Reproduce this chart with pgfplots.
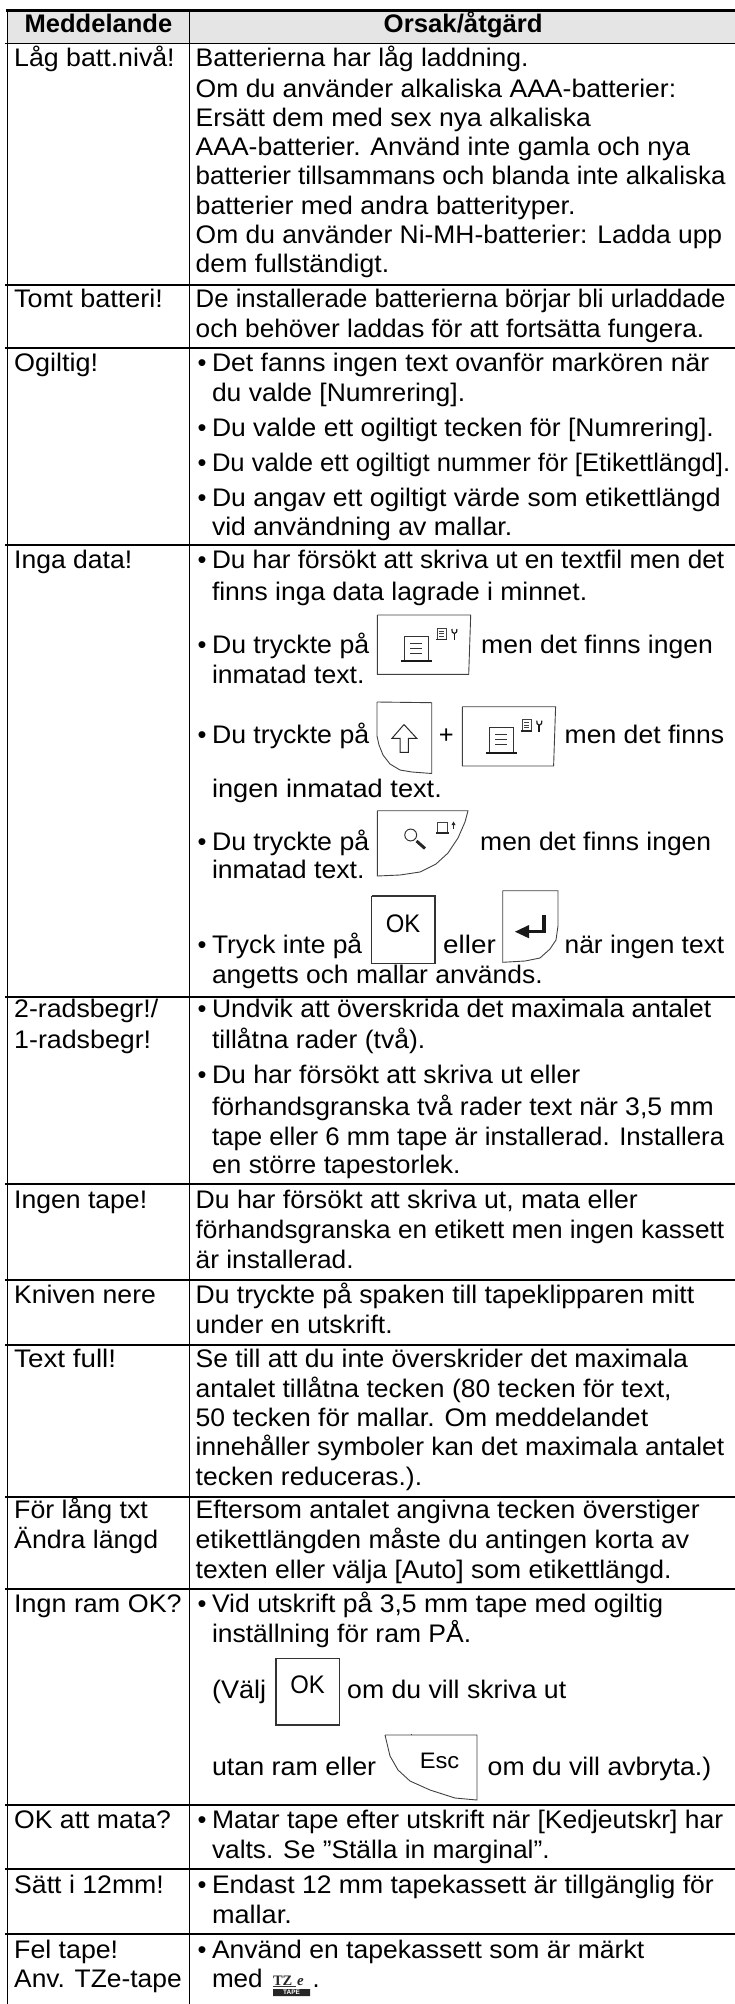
\documentclass[border=0pt]{standalone}
\usepackage{graphicx}
\usepackage{pgfplots}
\pgfplotsset{compat=1.18}
\usepackage{fontspec}
\setmainfont{Liberation Sans}
\newfontfamily\tzfont{Liberation Serif}
% \W{start}{right end}{text}: text set to the measured line width
\newcommand\W[3]{\resizebox{\dimexpr #2bp-#1bp+1bp\relax}{\height}{#3}}
\newcommand\T[4]{\node[anchor=base west,inner sep=0pt,text=black] at (axis cs:#1,#3) {\W{#1}{#2}{#4}};}
\newcommand\LC[3]{\T{14}{#1}{#2}{#3}}
\newcommand\RC[3]{\T{195.5}{#1}{#2}{#3}}
\newcommand\IC[3]{\T{211.8}{#1}{#2}{#3}}
\newcommand\BC[3]{\node[anchor=base west,inner sep=0pt,text=black] at (axis cs:197.5,#2) {•};\T{211.8}{#1}{#2}{#3}}
\newcommand\printkey[2]{%
\addplot[black!75,line width=0.9pt,xshift=#1bp,yshift=-#2bp] coordinates {(0,0)(93.3,0)(91.3,59.3)(0,59.3)(0,0)};
\addplot[black!80,line width=1pt,xshift=#1bp,yshift=-#2bp] coordinates {(26.7,45)(26.7,21)(51,21)(51,45)};
\addplot[black!90,line width=2.4pt,xshift=#1bp,yshift=-#2bp] coordinates {(24,46.2)(54.3,46.2)};
\addplot[black!80,line width=0.9pt,xshift=#1bp,yshift=-#2bp] coordinates {(33,28)(45,28)};
\addplot[black!80,line width=0.9pt,xshift=#1bp,yshift=-#2bp] coordinates {(33,33)(45,33)};
\addplot[black!80,line width=0.9pt,xshift=#1bp,yshift=-#2bp] coordinates {(33,38)(45,38)};
\addplot[black!75,line width=0.6pt,xshift=#1bp,yshift=-#2bp] coordinates {(60,24)(60,13)(69,13)(69,24)};
\addplot[black!85,line width=1.2pt,xshift=#1bp,yshift=-#2bp] coordinates {(59,24.3)(70,24.3)};
\addplot[black!75,line width=0.5pt,xshift=#1bp,yshift=-#2bp] coordinates {(62,16)(67,16)};
\addplot[black!75,line width=0.5pt,xshift=#1bp,yshift=-#2bp] coordinates {(62,18.5)(67,18.5)};
\addplot[black!75,line width=0.5pt,xshift=#1bp,yshift=-#2bp] coordinates {(62,21)(67,21)};
\addplot[black!90,line width=1.8pt,xshift=#1bp,yshift=-#2bp] coordinates {(77,25)(77,18)};
\addplot[black!90,line width=1.2pt,xshift=#1bp,yshift=-#2bp] coordinates {(74.5,14)(74.8,17)(77,18.5)(79.2,17)(79.5,14)};
}
\begin{document}
\begin{tikzpicture}
\path[use as bounding box] (0,0) rectangle (735bp,2004bp);
\begin{axis}[at={(0,0)},anchor=south west,scale only axis,width=735bp,height=2004bp,
  xmin=0,xmax=735,ymin=0,ymax=2004,y dir=reverse,hide axis,clip=true,
  every axis plot/.append style={no markers,forget plot},
  nodes={font=\fontsize{25.5}{29}\selectfont}]
% header shade
\addplot[fill=black!10,draw=none] coordinates {(7.5,11)(735,11)(735,43)(7.5,43)(7.5,11)};
% rules
\addplot[black,line width=2.2pt] coordinates {(6,10.5)(735,10.5)};
\addplot[black,line width=1.5pt] coordinates {(5,43.3)(735,43.3)};
\addplot[black,line width=1.1pt] coordinates {(5,285)(735,285)};
\addplot[black,line width=1.1pt] coordinates {(5,348)(735,348)};
\addplot[black,line width=1.1pt] coordinates {(5,545)(735,545)};
\addplot[black,line width=1.1pt] coordinates {(5,997)(735,997)};
\addplot[black,line width=1.1pt] coordinates {(5,1184)(735,1184)};
\addplot[black,line width=1.1pt] coordinates {(5,1280)(735,1280)};
\addplot[black,line width=1.1pt] coordinates {(5,1345)(735,1345)};
\addplot[black,line width=1.1pt] coordinates {(5,1497)(735,1497)};
\addplot[black,line width=1.1pt] coordinates {(5,1589)(735,1589)};
\addplot[black,line width=1.1pt] coordinates {(5,1805)(735,1805)};
\addplot[black,line width=1.1pt] coordinates {(5,1869)(735,1869)};
\addplot[black,line width=1.1pt] coordinates {(5,1934)(735,1934)};
\addplot[black,line width=1.3pt] coordinates {(7.5,10)(7.5,2004)};
\addplot[black,line width=1.1pt] coordinates {(189.5,10)(189.5,2004)};
% header
\node[anchor=base west,inner sep=0pt,font=\fontsize{25.5}{29}\selectfont\bfseries] at (axis cs:24.5,33) {\W{24.5}{171}{Meddelande}};
\node[anchor=base west,inner sep=0pt,font=\fontsize{25.5}{29}\selectfont\bfseries] at (axis cs:383.5,33) {\W{383.5}{541.5}{Orsak/åtgärd}};
% left column
\LC{173.5}{67}{Låg batt.nivå!}
\LC{161.7}{308}{Tomt batteri!}
\LC{97}{372}{Ogiltig!}
\LC{131}{568}{Inga data!}
\LC{157}{1017}{2-radsbegr!/}
\LC{150}{1048}{1-radsbegr!}
\LC{146}{1208}{Ingen tape!}
\LC{154.7}{1303}{Kniven nere}
\LC{114.9}{1367}{Text full!}
\LC{146.7}{1518}{För lång txt}
\LC{157}{1548}{Ändra längd}
\LC{180.5}{1612}{Ingn ram OK?}
\LC{169.7}{1828}{OK att mata?}
\LC{162.7}{1893}{Sätt i 12mm!}
\LC{117}{1958}{Fel tape!}
\LC{180.5}{1987}{Anv. TZe-tape}
% right column
\RC{527.4}{67}{Batterierna har låg laddning.}
\RC{675}{97.5}{Om du använder alkaliska AAA-batterier:}
\RC{589.8}{126.5}{Ersätt dem med sex nya alkaliska}
\RC{689}{156}{AAA-batterier. Använd inte gamla och nya}
\RC{724.3}{185}{batterier tillsammans och blanda inte alkaliska}
\RC{574.3}{215}{batterier med andra batterityper.}
\RC{721}{244}{Om du använder Ni-MH-batterier: Ladda upp}
\RC{388}{273}{dem fullständigt.}
\RC{724.3}{308}{De installerade batterierna börjar bli urladdade}
\RC{703}{337.5}{och behöver laddas för att fortsätta fungera.}
\BC{708}{372}{Det fanns ingen text ovanför markören när}
\IC{464}{401.7}{du valde [Numrering].}
\BC{712.6}{436.7}{Du valde ett ogiltigt tecken för [Numrering].}
\BC{729}{471}{Du valde ett ogiltigt nummer för [Etikettlängd].}
\BC{719.6}{506}{Du angav ett ogiltigt värde som etikettlängd}
\IC{511}{535}{vid användning av mallar.}
\BC{723}{568}{Du har försökt att skriva ut en textfil men det}
\IC{586}{600}{finns inga data lagrade i minnet.}
\BC{368}{653}{Du tryckte på}
\T{481}{711.7}{653}{men det finns ingen}
\IC{363.3}{683}{inmatad text.}
\BC{368}{743}{Du tryckte på}
\T{564.5}{723}{743}{men det finns}
\IC{440.7}{797}{ingen inmatad text.}
\BC{368}{850}{Du tryckte på}
\T{480}{710}{850}{men det finns ingen}
\IC{363.3}{878}{inmatad text.}
\BC{361}{953}{Tryck inte på}
\T{443}{494.6}{953}{eller}
\T{564.5}{723}{953}{när ingen text}
\IC{541.5}{983}{angetts och mallar används.}
\BC{710}{1017}{Undvik att överskrida det maximala antalet}
\IC{424}{1048}{tillåtna rader (två).}
\BC{579}{1083}{Du har försökt att skriva ut eller}
\IC{712.6}{1115}{förhandsgranska två rader text när 3,5 mm}
\IC{723}{1145}{tape eller 6 mm tape är installerad. Installera}
\IC{459.4}{1173}{en större tapestorlek.}
\RC{636.7}{1208}{Du har försökt att skriva ut, mata eller}
\RC{723}{1238}{förhandsgranska en etikett men ingen kassett}
\RC{352.5}{1268}{är installerad.}
\RC{693}{1303}{Du tryckte på spaken till tapeklipparen mitt}
\RC{391.5}{1333}{under en utskrift.}
\RC{686.8}{1367}{Se till att du inte överskrider det maximala}
\RC{670.4}{1397}{antalet tillåtna tecken (80 tecken för text,}
\RC{647}{1426}{50 tecken för mallar. Om meddelandet}
\RC{723}{1455}{innehåller symboler kan det maximala antalet}
\RC{421}{1485}{tecken reduceras.).}
\RC{698.5}{1518}{Eftersom antalet angivna tecken överstiger}
\RC{688}{1548}{etikettlängden måste du antingen korta av}
\RC{670.4}{1578}{texten eller välja [Auto] som etikettlängd.}
\BC{662}{1612}{Vid utskrift på 3,5 mm tape med ogiltig}
\IC{470}{1642}{inställning för ram PÅ.}
\IC{265}{1698}{(Välj}
\T{347}{565}{1698}{om du vill skriva ut}
\IC{375}{1775}{utan ram eller}
\T{487.5}{710}{1775}{om du vill avbryta.)}
\BC{722}{1828}{Matar tape efter utskrift när [Kedjeutskr] har}
\IC{548.5}{1858}{valts. Se ”Ställa in marginal”.}
\BC{712.6}{1893}{Endast 12 mm tapekassett är tillgänglig för}
\IC{290.7}{1923}{mallar.}
\BC{643}{1958}{Använd en tapekassett som är märkt}
\IC{261.5}{1987}{med}
\node[anchor=base west,inner sep=0pt] at (axis cs:312.5,1987) {.};
\node[anchor=base,inner sep=0pt] at (axis cs:446.3,743) {+};
% print keys
\printkey{377.4}{615}
\printkey{462.3}{706.7}
% shift key
\addplot[black!75,line width=0.9pt] coordinates {(377,702)(431.7,702.7)(431.7,773.5)(412,772)(400,770)(390,764)(383,755)(379,745)(377,736)(377,702)};
\addplot[black!85,line width=1pt] coordinates {(404,724.5)(416.7,738.3)(408.3,738.3)(408.3,752.3)(400,752.3)(400,738.3)(392,738.3)(404,724.5)};
% preview key
\addplot[black!75,line width=0.9pt] coordinates {(377.3,810.7)(468,810.7)(465,822)(458,838)(448,853)(436,864)(420,872)(400,875)(377.3,876)(377.3,810.7)};
\addplot[black!80,line width=1pt] coordinates {(416.7,835)(415.9,838)(413.7,840.2)(410.7,841)(407.7,840.2)(405.5,838)(404.7,835)(405.5,832)(407.7,829.8)(410.7,829)(413.7,829.8)(415.9,832)(416.7,835)};
\addplot[black!85,line width=3pt] coordinates {(416.5,841)(425,848.5)};
\addplot[black!75,line width=0.7pt] coordinates {(437.3,832)(437.3,822)(447.3,822)(447.3,832)};
\addplot[black!85,line width=1.2pt] coordinates {(436,833)(449,833)};
\addplot[black!85,line width=1pt] coordinates {(453.5,829)(453.5,824)};
\addplot[fill=black!85,draw=none] coordinates {(451.5,825)(453.5,821.5)(455.5,825)(451.5,825)};
% OK key 1
\addplot[black!80,line width=1.2pt] coordinates {(371.7,896)(435,896)(435,963.3)(371.7,963.3)(371.7,896)};
\node[anchor=center,inner sep=0pt] at (axis cs:403,923.5) {\W{386}{419.5}{OK}};
% Enter key
\addplot[black!75,line width=0.9pt] coordinates {(502.7,890.7)(558,890.7)(558,926)(556,940)(550,949)(540,958)(525,961)(502.7,962.3)(502.7,890.7)};
\addplot[black!90,line width=3.2pt] coordinates {(544,915)(544,931.7)(525,931.7)};
\addplot[fill=black!90,draw=none] coordinates {(515,931.7)(529,925)(529,938.3)(515,931.7)};
% OK key 2
\addplot[black!80,line width=1.2pt] coordinates {(276,1658.3)(339.3,1658.3)(339.3,1725)(276,1725)(276,1658.3)};
\node[anchor=center,inner sep=0pt] at (axis cs:307.5,1684.5) {\W{290.5}{324}{OK}};
% Esc key
\addplot[black!75,line width=0.9pt] coordinates {(385,1735)(477,1735)(477,1800)(455,1798)(430,1790)(410,1781)(398,1770)(390,1756)(385,1735)};
\addplot[black!75,line width=0.9pt] coordinates {(411.7,1733.5)(411.7,1735)};
\node[anchor=center,inner sep=0pt,font=\fontsize{22.5}{26}\selectfont] at (axis cs:439.5,1761) {\W{420}{458.5}{Esc}};
% TZe logo
\node[anchor=base west,inner sep=0pt,font=\fontsize{14.5}{16}\selectfont\tzfont\bfseries,text=black!85] at (axis cs:272.8,1985) {TZ};
\node[anchor=base west,inner sep=0pt,font=\fontsize{15}{16}\selectfont\tzfont\bfseries\itshape,text=black!85] at (axis cs:297,1985) {e};
\addplot[black!80,line width=0.7pt] coordinates {(273,1986)(296,1986)};
\addplot[fill=black!85,draw=none] coordinates {(273,1989)(310,1989)(310,1996)(273,1996)(273,1989)};
\node[anchor=center,inner sep=0pt,font=\fontsize{6.5}{7}\selectfont\bfseries,text=white] at (axis cs:291.5,1992.5) {TAPE};
\end{axis}
\end{tikzpicture}
\end{document}
